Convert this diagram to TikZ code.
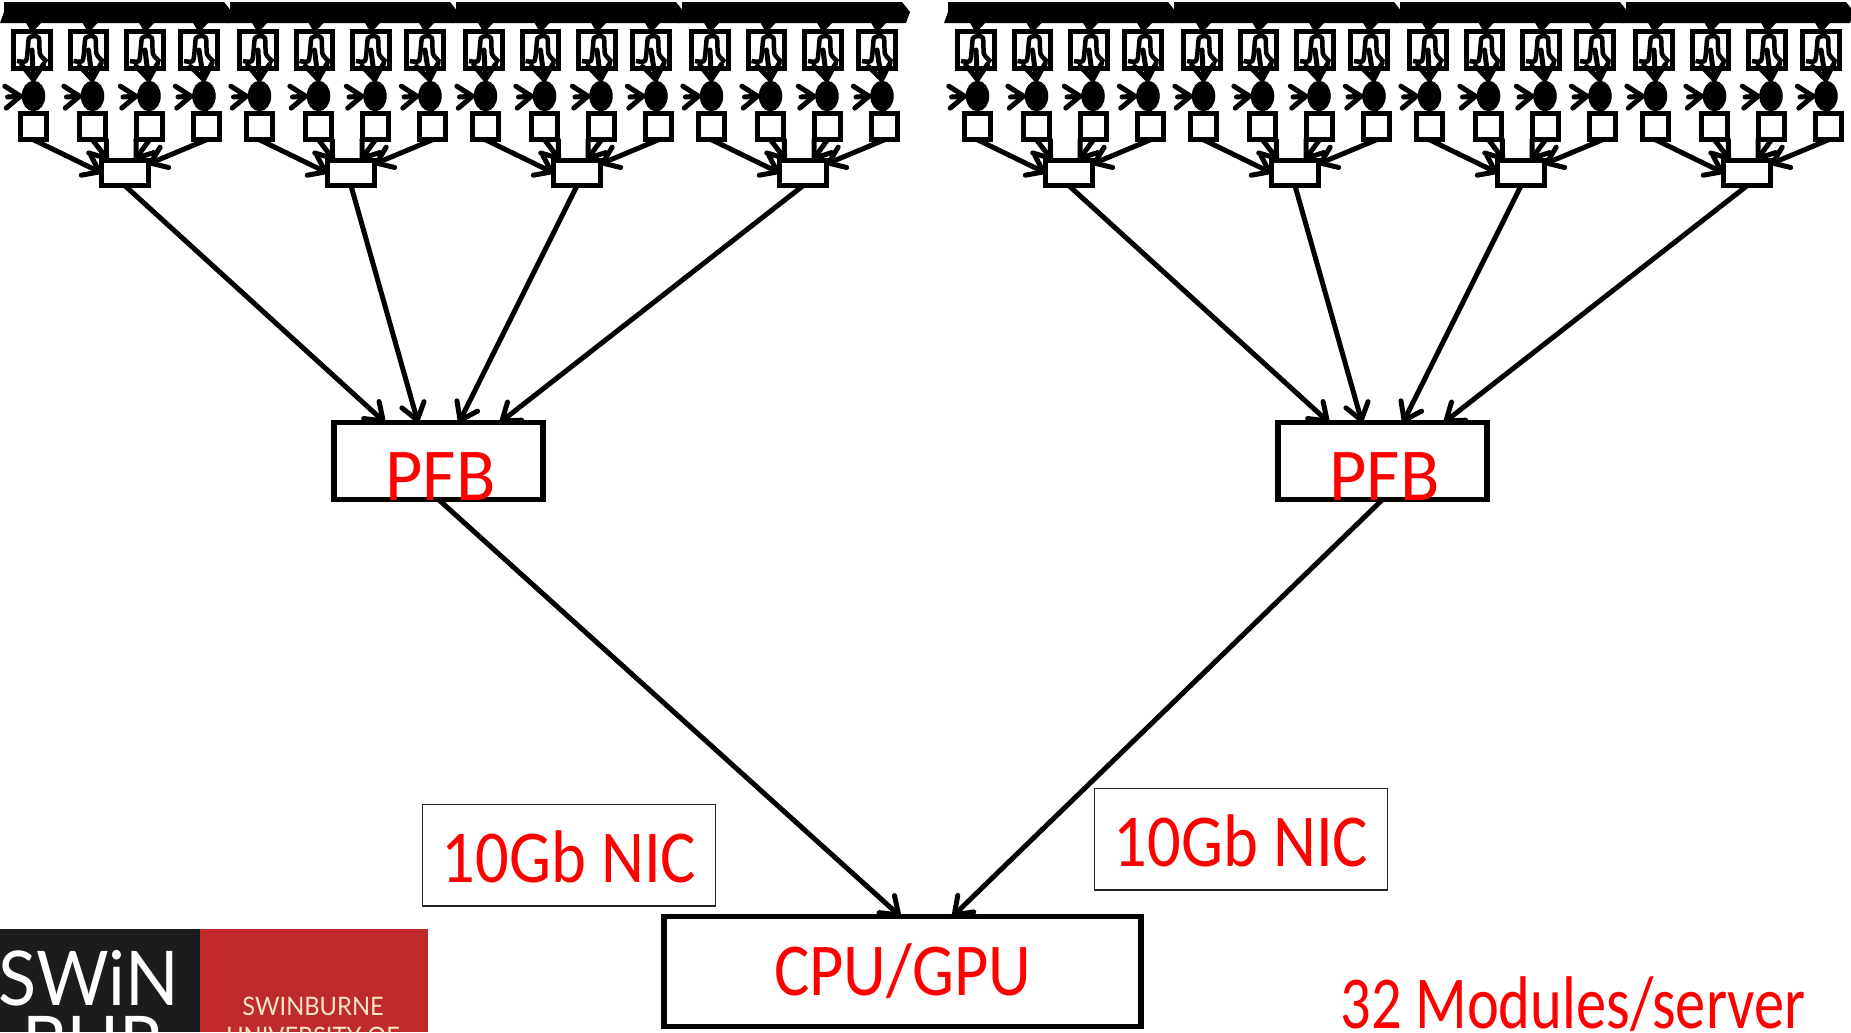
\documentclass[tikz,border=0pt]{standalone}
\usepackage{fontspec}
\setmainfont[FakeStretch=0.89]{Carlito}
\newfontfamily\widefont[FakeStretch=0.97]{Carlito}
\newfontfamily\slimfont[FakeStretch=0.81]{Carlito}
\newfontfamily\logofont[FakeStretch=0.93]{Lato}
\usepackage{xcolor}
\usetikzlibrary{arrows.meta,shapes.geometric}

\definecolor{logoblack}{HTML}{1C1C1C}
\definecolor{logored}{HTML}{C12A2A}
\definecolor{logocream}{HTML}{F5E6C8}

\tikzset{
    filterbox/.style={draw, line width=0.105cm, fill=white, inner sep=0pt, outer sep=0pt,
        minimum width=0.73cm, minimum height=0.75cm},
    mixer/.style={ellipse, draw, fill=black, line width=0.05cm, inner sep=0pt, outer sep=0pt,
        minimum width=0.42cm, minimum height=0.56cm},
    adcbox/.style={draw, line width=0.105cm, fill=white, inner sep=0pt, outer sep=0pt,
        minimum width=0.53cm, minimum height=0.53cm},
    chanbox/.style={draw, line width=0.105cm, fill=white, inner sep=0pt, outer sep=0pt,
        minimum width=0.93cm, minimum height=0.51cm},
    bigbox/.style={draw, line width=0.115cm, fill=white, inner sep=0pt, outer sep=0pt},
    nicbox/.style={draw=black!85, line width=0.03cm, fill=white, inner sep=0pt, outer sep=0pt,
        minimum width=5.87cm, minimum height=2.03cm},
    redtext/.style={text=red, text depth=0pt, text height=27pt},
    smallarrow/.style={line width=0.1cm, line cap=round,
        -{Straight Barb[length=0.3cm,width=0.44cm,round]}},
    bigarrow/.style={line width=0.1cm, line cap=round,
        -{Straight Barb[length=0.32cm,width=0.46cm,round]}},
}

\begin{document}
\begin{tikzpicture}[x=0.02cm,y=-0.02cm]
    \useasboundingbox (0,0) rectangle (1851,1032);

    \foreach \p in {0,944} {
        \pgfmathsetmacro{\px}{\p+438.5}
        \node[bigbox, minimum width=4.19cm, minimum height=1.54cm] (pfb-\p) at (\px,461) {};
        \foreach \g in {0,1,2,3} {
            \pgfmathsetmacro{\gx}{\p+226*\g}
            % banner
            \fill (\gx+4,2) -- (\gx+224,2) -- (\gx+232,12) -- (\gx+228,23)
                -- (\gx,23) -- (\gx+4,12) -- cycle;
            \node[chanbox] (chan-\p-\g) at (\gx+125,173) {};
            \foreach \fx/\ex/\sx [count=\n] in {32/33.5/33.5,88.5/92.5/92.5,145/149/149.5,199/204/206.5} {
                \node[filterbox] (filter-\p-\g-\n) at (\gx+\fx,50) {};
                \begin{scope}[shift={(\gx+\fx,50)}]
                    \draw[line width=0.09cm, line join=round] plot[smooth, tension=0.4] coordinates
                        {(-15,11) (-6,11) (-4,-4) (-3,-12) (2,-14) (7,-12) (8,4) (15,12)};
                \end{scope}
                \node[mixer] (mixer-\p-\g-\n) at (\gx+\ex,96) {};
                \node[adcbox] (adc-\p-\g-\n) at (\gx+\sx,126.5) {};
                \coordinate (feed-\p-\g-\n) at (\gx+\fx+2,14);
                \coordinate (osc-\p-\g-\n) at (\gx+\ex-26,97);
                \draw[smallarrow] (feed-\p-\g-\n) -- (filter-\p-\g-\n.north);
                \draw[smallarrow] (filter-\p-\g-\n.center) -- (mixer-\p-\g-\n.north);
                \draw[smallarrow] (osc-\p-\g-\n) -- (mixer-\p-\g-\n.west);
                \draw[line width=0.07cm] (mixer-\p-\g-\n) -- (adc-\p-\g-\n.north);
            }
            \draw[smallarrow] (adc-\p-\g-1.south) -- (chan-\p-\g.west);
            \draw[smallarrow] (adc-\p-\g-2.south) -- (chan-\p-\g.143);
            \draw[smallarrow] (adc-\p-\g-3.south) -- (chan-\p-\g.53);
            \draw[smallarrow] (adc-\p-\g-4.south) -- (chan-\p-\g.21);
        }
        \draw[bigarrow] (chan-\p-0.south) -- ([xshift=-1.07cm]pfb-\p.north);
        \draw[bigarrow] (chan-\p-1.south) -- ([xshift=-0.41cm]pfb-\p.north);
        \draw[bigarrow] (chan-\p-2.south) -- ([xshift=0.41cm]pfb-\p.north);
        \draw[bigarrow] (chan-\p-3.south) -- ([xshift=1.23cm]pfb-\p.north);
    }

    \node[redtext, font=\widefont\fontsize{42.5}{50}\selectfont] (pfblabel-0) at (440.5,477) {PFB};
    \node[redtext, font=\widefont\fontsize{42.5}{50}\selectfont] (pfblabel-944) at (1384.5,477) {PFB};

    \node[bigbox, redtext, font=\fontsize{42.5}{50}\selectfont, minimum width=9.55cm, minimum height=2.2cm] (cpu) at (902.5,971.5) {CPU/GPU};
    \draw[bigarrow] (pfb-0.south) -- ([xshift=-0.04cm]cpu.north);
    \draw[bigarrow] (pfb-944.south) -- ([xshift=1cm]cpu.north);

    \node[nicbox, redtext, text height=31pt, font=\fontsize{42.5}{50}\selectfont] (nicleft) at (569,855) {10Gb NIC};
    \node[nicbox, redtext, text height=31pt, font=\fontsize{42.5}{50}\selectfont] (nicright) at (1241,839) {10Gb NIC};

    \node[redtext, inner sep=0pt, anchor=base west, font=\slimfont\fontsize{42.5}{50}\selectfont] (modules) at (1340,1028) {32 Modules/server};

    % logo
    \begin{scope}
        \clip (0,929) rectangle (428,1032);
        \fill[logoblack] (0,929) rectangle (200,1032);
        \fill[logored] (200,929) rectangle (428,1032);
        \node[white, anchor=base west, inner sep=0pt, font=\logofont\fontsize{43}{50}\selectfont] (swin) at (-2,1005) {SWiN};
        \node[white, anchor=base west, inner sep=0pt, font=\logofont\fontsize{43}{50}\selectfont] (bur) at (22,1070) {BUR};
        \node[logocream, anchor=base, inner sep=0pt, font=\logofont\fontsize{14.5}{16}\selectfont] (swinburne) at (313,1015) {SWINBURNE};
        \node[logocream, anchor=base, inner sep=0pt, font=\logofont\fontsize{14.5}{16}\selectfont] (university) at (313,1045) {UNIVERSITY OF};
    \end{scope}
\end{tikzpicture}
\end{document}
